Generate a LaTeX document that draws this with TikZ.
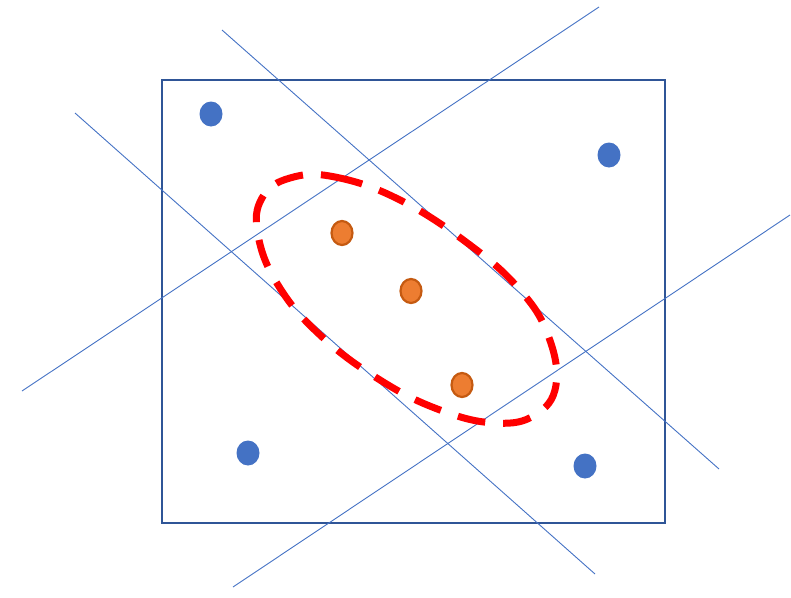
\documentclass[tikz,border=0pt]{standalone}
\usetikzlibrary{shapes.geometric}
\begin{document}
\begin{tikzpicture}[x=1pt,y=-1pt,
  frame/.style={draw=frameblue,line width=2.6pt},
  thinline/.style={draw=lineblue,line width=0.9pt},
  bluedot/.style={ellipse,fill=lineblue,minimum width=23pt,minimum height=25pt,inner sep=0pt},
  orangedot/.style={ellipse,fill=dotorange,draw=dotborder,line width=2.2pt,minimum width=21pt,minimum height=24pt,inner sep=0pt},
  redloop/.style={draw=red,line width=7pt,dash pattern=on 28pt off 18pt}]
\definecolor{frameblue}{HTML}{2F5597}
\definecolor{lineblue}{HTML}{4472C4}
\definecolor{dotorange}{HTML}{ED7D31}
\definecolor{dotborder}{HTML}{C55A11}
\useasboundingbox (0,0) rectangle (791,597);
\node[frame,rectangle,minimum width=503pt,minimum height=443pt,inner sep=0pt] (box) at (413.5,301.5) {};
\coordinate (a1) at (222,30); \coordinate (a2) at (719,469);
\coordinate (b1) at (75,113); \coordinate (b2) at (595,574);
\coordinate (c1) at (22,391); \coordinate (c2) at (599,7);
\coordinate (d1) at (233,587); \coordinate (d2) at (790,215);
\draw[thinline] (a1) -- (a2);
\draw[thinline] (b1) -- (b2);
\draw[thinline] (c1) -- (c2);
\draw[thinline] (d1) -- (d2);
\draw[redloop] plot[smooth cycle,tension=0.7] coordinates {(290,178) (335,177) (400,200) (470,245) (520,290) (548,335) (556,385) (535,415) (495,423) (440,410) (380,380) (320,335) (278,285) (258,235) (262,198)};
\node[bluedot] (p1) at (211,114) {};
\node[bluedot] (p2) at (609,155) {};
\node[bluedot] (p3) at (248,453) {};
\node[bluedot] (p4) at (585,466) {};
\node[orangedot] (q1) at (342,233) {};
\node[orangedot] (q2) at (411,291) {};
\node[orangedot] (q3) at (462,385) {};
\end{tikzpicture}
\end{document}
